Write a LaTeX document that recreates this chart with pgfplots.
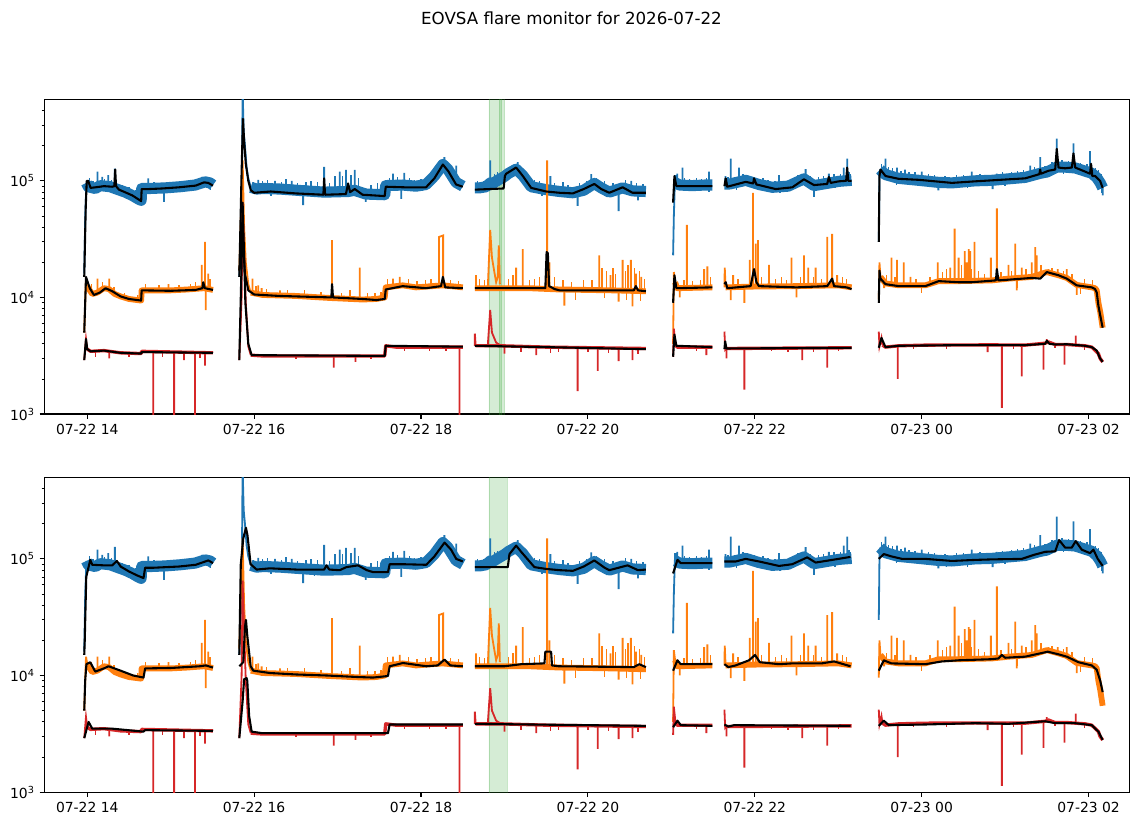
\documentclass[border=0pt]{standalone}
\usepackage{fontspec}
\setmainfont{DejaVu Sans}
\usepackage{pgfplots}
\pgfplotsset{compat=1.18}
\usepackage{pgfplotstable}
\definecolor{tabblue}{HTML}{1F77B4}
\definecolor{taborange}{HTML}{FF7F0E}
\definecolor{tabred}{HTML}{D62728}
\definecolor{tabgreen}{HTML}{2CA02C}

% ---------- blue (high band) ----------
\pgfplotstableread[row sep=\\]{t v\\
13.990 9.6e4\\ 14.012 8.9e4\\ 14.096 8.6e4\\ 14.156 9.1e4\\ 14.275 8.9e4\\ 14.371 8.4e4\\ 14.455 8.0e4\\ 14.538 7.5e4\\ 14.610 7.0e4\\ 14.646 6.8e4\\ 14.652 8.6e4\\ 14.754 8.6e4\\ 14.933 8.7e4\\ 15.112 8.9e4\\ 15.292 9.2e4\\ 15.412 9.8e4\\ 15.471 9.6e4\\ 15.507 9.2e4\\ 0 nan\\
15.960 8.8e4\\ 16.030 8.5e4\\ 16.110 8.6e4\\ 16.310 8.5e4\\ 16.510 8.3e4\\ 16.840 8.0e4\\ 17.130 8.1e4\\ 17.200 8.3e4\\ 17.340 7.7e4\\ 17.565 7.6e4\\ 17.577 9.1e4\\ 17.780 9.2e4\\ 17.940 9.0e4\\ 18.060 9.3e4\\ 18.160 1.1e5\\ 18.262 1.38e5\\ 18.320 1.26e5\\ 18.420 9.7e4\\ 18.501 9.0e4\\ 0 nan\\
18.645 8.7e4\\ 18.700 8.7e4\\ 18.780 8.9e4\\ 18.830 9.6e4\\ 18.860 9.5e4\\ 18.940 1.03e5\\ 19.000 1.09e5\\ 19.050 1.16e5\\ 19.140 1.26e5\\ 19.220 1.11e5\\ 19.320 8.9e4\\ 19.500 8.4e4\\ 19.660 8.1e4\\ 19.820 7.9e4\\ 19.950 8.3e4\\ 20.077 9.5e4\\ 20.160 8.7e4\\ 20.256 8.0e4\\ 20.416 8.7e4\\ 20.535 8.2e4\\ 20.695 8.1e4\\ 0 nan\\
21.050 9.6e4\\ 21.100 9.2e4\\ 21.250 9.1e4\\ 21.400 9.2e4\\ 21.492 9.2e4\\ 0 nan\\
21.636 9.4e4\\ 21.700 9.4e4\\ 21.891 1.01e5\\ 22.050 9.3e4\\ 22.210 8.8e4\\ 22.400 9.0e4\\ 22.589 1.04e5\\ 22.709 9.1e4\\ 22.900 9.6e4\\ 23.007 9.9e4\\ 23.160 1.01e5\\ 0 nan\\
23.500 1.25e5\\ 23.566 1.13e5\\ 23.725 1.05e5\\ 23.964 1.01e5\\ 24.200 9.7e4\\ 24.363 9.6e4\\ 24.640 1.0e5\\ 24.840 1.01e5\\ 25.040 1.04e5\\ 25.240 1.07e5\\ 25.420 1.16e5\\ 25.500 1.19e5\\ 25.619 1.31e5\\ 25.720 1.31e5\\ 25.840 1.29e5\\ 25.960 1.21e5\\ 26.040 1.16e5\\ 26.100 1.06e5\\ 26.140 9.6e4\\ 26.169 8.7e4\\
}\bandB

\pgfplotstableread[row sep=\\]{t v\\
13.964 1.6e4\\ 13.976 5e4\\ 13.990 9.6e4\\ 0 nan\\
14.123 8.7e4\\ 14.123 1.2e5\\ 0 nan\\ 14.179 9.0e4\\ 14.179 1.08e5\\ 0 nan\\ 14.251 9.0e4\\ 14.251 1.12e5\\ 0 nan\\ 14.331 8.9e4\\ 14.331 1.27e5\\ 0 nan\\
14.730 8.6e4\\ 14.730 1.05e5\\ 0 nan\\ 14.920 8.6e4\\ 14.920 6.6e4\\ 0 nan\\ 15.256 9.1e4\\ 15.256 1.0e5\\ 0 nan\\ 15.376 9.6e4\\ 15.376 1.08e5\\ 0 nan\\
15.822 1.5e4\\ 15.850 5e4\\ 15.862 6e5\\ 15.875 2.6e5\\ 15.890 2.0e5\\ 15.910 1.3e5\\ 15.930 1.05e5\\ 15.960 8.8e4\\ 0 nan\\
16.050 8.5e4\\ 16.050 1.02e5\\ 0 nan\\ 16.250 8.5e4\\ 16.250 1.0e5\\ 0 nan\\ 16.450 8.3e4\\ 16.450 1.0e5\\ 0 nan\\
16.587 8.4e4\\ 16.587 6.2e4\\ 0 nan\\ 16.839 8.0e4\\ 16.839 1.32e5\\ 0 nan\\ 17.026 8.0e4\\ 17.026 1.2e5\\ 0 nan\\ 17.100 8.0e4\\ 17.100 1.24e5\\ 0 nan\\
17.206 8.2e4\\ 17.206 1.24e5\\ 0 nan\\ 17.337 7.7e4\\ 17.337 6.6e4\\ 0 nan\\ 17.664 9.1e4\\ 17.664 1.15e5\\ 0 nan\\ 17.764 9.1e4\\ 17.764 7.0e4\\ 0 nan\\
17.800 9.1e4\\ 17.800 1.17e5\\ 0 nan\\ 18.280 1.35e5\\ 18.280 1.6e5\\ 0 nan\\ 18.422 9.7e4\\ 18.422 1.35e5\\ 0 nan\\
18.829 9.6e4\\ 18.829 1.5e5\\ 0 nan\\ 19.160 1.24e5\\ 19.160 1.45e5\\ 0 nan\\ 19.550 8.3e4\\ 19.550 1.1e5\\ 0 nan\\ 19.877 8.0e4\\ 19.877 6.1e4\\ 0 nan\\
20.040 9.2e4\\ 20.040 1.14e5\\ 0 nan\\ 20.368 8.5e4\\ 20.368 5.5e4\\ 0 nan\\ 20.520 8.2e4\\ 20.520 1.0e5\\ 0 nan\\ 20.600 8.1e4\\ 20.600 6.8e4\\ 0 nan\\
21.021 2.3e4\\ 21.030 5e4\\ 21.045 1.12e5\\ 21.050 9.6e4\\ 0 nan\\ 21.070 9.2e4\\ 21.070 1.15e5\\ 0 nan\\ 21.133 9.2e4\\ 21.133 1.3e5\\ 0 nan\\ 21.452 9.2e4\\ 21.452 1.2e5\\ 0 nan\\
21.650 9.4e4\\ 21.650 1.1e5\\ 0 nan\\ 21.712 9.4e4\\ 21.712 1.55e5\\ 0 nan\\ 21.811 9.6e4\\ 21.811 1.3e5\\ 0 nan\\ 22.290 8.9e4\\ 22.290 1.12e5\\ 0 nan\\
22.609 1.02e5\\ 22.609 1.26e5\\ 0 nan\\ 22.709 9.1e4\\ 22.709 7.3e4\\ 0 nan\\ 22.888 9.5e4\\ 22.888 1.15e5\\ 0 nan\\ 23.067 1.0e5\\ 23.067 1.3e5\\ 0 nan\\ 23.107 1.0e5\\ 23.107 1.55e5\\ 0 nan\\
23.486 3.0e4\\ 23.494 1.0e5\\ 23.500 1.25e5\\ 0 nan\\ 23.566 1.13e5\\ 23.566 1.55e5\\ 0 nan\\ 23.705 1.05e5\\ 23.705 1.3e5\\ 0 nan\\ 23.800 1.04e5\\ 23.800 1.25e5\\ 0 nan\\
24.000 1.0e5\\ 24.000 1.2e5\\ 0 nan\\ 24.200 9.7e4\\ 24.200 8.3e4\\ 0 nan\\ 24.600 1.0e5\\ 24.600 1.2e5\\ 0 nan\\ 24.850 1.01e5\\ 24.850 8.5e4\\ 0 nan\\ 24.900 1.01e5\\ 24.900 1.15e5\\ 0 nan\\
25.300 1.1e5\\ 25.300 1.35e5\\ 0 nan\\ 25.420 1.16e5\\ 25.420 1.6e5\\ 0 nan\\ 25.619 1.31e5\\ 25.619 2.3e5\\ 0 nan\\ 25.819 1.3e5\\ 25.819 2.1e5\\ 0 nan\\ 26.018 1.17e5\\ 26.018 1.8e5\\ 0 nan\\ 26.169 8.7e4\\ 26.169 7.5e4\\
}\detB

% small noise excursions of the blue trace
\pgfplotstableread[row sep=\\]{t v\\
14.03 9.0e4\\ 14.03 1.05e5\\ 0 nan\\ 14.07 8.7e4\\ 14.07 1.0e5\\ 0 nan\\ 14.21 9.0e4\\ 14.21 1.03e5\\ 0 nan\\ 14.29 8.9e4\\ 14.29 1.02e5\\ 0 nan\\
14.40 8.4e4\\ 14.40 7.4e4\\ 0 nan\\ 14.42 8.3e4\\ 14.42 9.2e4\\ 0 nan\\ 14.50 7.8e4\\ 14.50 8.8e4\\ 0 nan\\ 14.56 7.4e4\\ 14.56 6.8e4\\ 0 nan\\ 14.58 7.3e4\\ 14.58 8.3e4\\ 0 nan\\
14.68 8.6e4\\ 14.68 9.6e4\\ 0 nan\\ 14.80 8.6e4\\ 14.80 9.8e4\\ 0 nan\\ 14.86 8.6e4\\ 14.86 9.5e4\\ 0 nan\\ 14.98 8.7e4\\ 14.98 9.7e4\\ 0 nan\\ 15.00 8.7e4\\ 15.00 7.9e4\\ 0 nan\\
15.05 8.8e4\\ 15.05 9.6e4\\ 0 nan\\ 15.16 8.9e4\\ 15.16 1.0e5\\ 0 nan\\ 15.20 9.0e4\\ 15.20 9.8e4\\ 0 nan\\ 15.33 9.3e4\\ 15.33 1.0e5\\ 0 nan\\ 15.44 9.7e4\\ 15.44 1.08e5\\ 0 nan\\
15.48 9.5e4\\ 15.48 8.4e4\\ 0 nan\\ 15.49 9.5e4\\ 15.49 1.04e5\\ 0 nan\\
15.99 8.7e4\\ 15.99 9.8e4\\ 0 nan\\ 16.10 8.6e4\\ 16.10 9.9e4\\ 0 nan\\ 16.16 8.6e4\\ 16.16 1.02e5\\ 0 nan\\ 16.20 8.5e4\\ 16.20 7.4e4\\ 0 nan\\ 16.33 8.5e4\\ 16.33 9.8e4\\ 0 nan\\
16.38 8.4e4\\ 16.38 1.04e5\\ 0 nan\\ 16.52 8.3e4\\ 16.52 9.5e4\\ 0 nan\\ 16.62 8.2e4\\ 16.62 9.8e4\\ 0 nan\\ 16.68 8.2e4\\ 16.68 1.0e5\\ 0 nan\\ 16.72 8.1e4\\ 16.72 7.2e4\\ 0 nan\\
16.76 8.1e4\\ 16.76 9.7e4\\ 0 nan\\ 16.90 8.0e4\\ 16.90 9.6e4\\ 0 nan\\ 16.97 8.0e4\\ 16.97 1.1e5\\ 0 nan\\ 17.06 8.0e4\\ 17.06 1.1e5\\ 0 nan\\ 17.16 8.2e4\\ 17.16 1.12e5\\ 0 nan\\
17.25 8.1e4\\ 17.25 1.05e5\\ 0 nan\\ 17.40 7.7e4\\ 17.40 9.2e4\\ 0 nan\\ 17.45 7.7e4\\ 17.45 6.9e4\\ 0 nan\\ 17.48 7.7e4\\ 17.48 9.5e4\\ 0 nan\\ 17.55 7.6e4\\ 17.55 9.2e4\\ 0 nan\\
17.62 9.1e4\\ 17.62 1.05e5\\ 0 nan\\ 17.72 9.2e4\\ 17.72 1.08e5\\ 0 nan\\ 17.86 9.1e4\\ 17.86 1.05e5\\ 0 nan\\ 17.92 9.0e4\\ 17.92 1.02e5\\ 0 nan\\ 18.00 9.1e4\\ 18.00 1.03e5\\ 0 nan\\
18.02 9.1e4\\ 18.02 8.2e4\\ 0 nan\\ 18.10 1.0e5\\ 18.10 1.15e5\\ 0 nan\\ 18.36 1.15e5\\ 18.36 1.3e5\\ 0 nan\\ 18.46 9.3e4\\ 18.46 1.02e5\\ 0 nan\\
18.68 8.7e4\\ 18.68 1.0e5\\ 0 nan\\ 18.75 8.8e4\\ 18.75 1.0e5\\ 0 nan\\ 18.88 9.7e4\\ 18.88 1.15e5\\ 0 nan\\ 18.92 1.0e5\\ 18.92 1.18e5\\ 0 nan\\ 18.97 1.06e5\\ 18.97 1.2e5\\ 0 nan\\
19.02 1.12e5\\ 19.02 1.25e5\\ 0 nan\\ 19.08 1.2e5\\ 19.08 1.35e5\\ 0 nan\\ 19.26 1.0e5\\ 19.26 1.15e5\\ 0 nan\\ 19.36 8.8e4\\ 19.36 1.02e5\\ 0 nan\\ 19.42 8.6e4\\ 19.42 1.0e5\\ 0 nan\\
19.45 8.6e4\\ 19.45 7.4e4\\ 0 nan\\ 19.60 8.2e4\\ 19.60 9.6e4\\ 0 nan\\ 19.70 8.1e4\\ 19.70 9.8e4\\ 0 nan\\ 19.76 8.0e4\\ 19.76 9.2e4\\ 0 nan\\ 19.90 8.1e4\\ 19.90 9.5e4\\ 0 nan\\
19.98 8.6e4\\ 19.98 1.0e5\\ 0 nan\\ 20.10 9.2e4\\ 20.10 1.05e5\\ 0 nan\\ 20.20 8.3e4\\ 20.20 1.0e5\\ 0 nan\\ 20.22 8.3e4\\ 20.22 7.3e4\\ 0 nan\\ 20.30 8.2e4\\ 20.30 9.6e4\\ 0 nan\\
20.45 8.6e4\\ 20.45 1.02e5\\ 0 nan\\ 20.58 8.2e4\\ 20.58 9.5e4\\ 0 nan\\ 20.65 8.1e4\\ 20.65 7.3e4\\ 0 nan\\ 20.66 8.1e4\\ 20.66 9.4e4\\ 0 nan\\
21.16 9.2e4\\ 21.16 1.05e5\\ 0 nan\\ 21.22 9.1e4\\ 21.22 1.04e5\\ 0 nan\\ 21.28 9.1e4\\ 21.28 8.2e4\\ 0 nan\\ 21.30 9.1e4\\ 21.30 1.06e5\\ 0 nan\\ 21.36 9.2e4\\ 21.36 1.03e5\\ 0 nan\\
21.42 9.2e4\\ 21.42 1.05e5\\ 0 nan\\ 21.45 9.2e4\\ 21.45 8.0e4\\ 0 nan\\ 21.48 9.2e4\\ 21.48 1.02e5\\ 0 nan\\
21.68 9.4e4\\ 21.68 1.08e5\\ 0 nan\\ 21.76 9.6e4\\ 21.76 1.08e5\\ 0 nan\\ 21.78 9.6e4\\ 21.78 8.4e4\\ 0 nan\\ 21.86 1.0e5\\ 21.86 1.15e5\\ 0 nan\\ 21.94 9.8e4\\ 21.94 1.1e5\\ 0 nan\\
22.00 9.5e4\\ 22.00 1.08e5\\ 0 nan\\ 22.10 9.1e4\\ 22.10 1.05e5\\ 0 nan\\ 22.16 8.9e4\\ 22.16 1.02e5\\ 0 nan\\ 22.24 8.8e4\\ 22.24 1.0e5\\ 0 nan\\ 22.30 8.8e4\\ 22.30 7.8e4\\ 0 nan\\
22.35 8.9e4\\ 22.35 1.0e5\\ 0 nan\\ 22.45 9.3e4\\ 22.45 1.05e5\\ 0 nan\\ 22.52 9.8e4\\ 22.52 1.12e5\\ 0 nan\\ 22.66 9.6e4\\ 22.66 1.1e5\\ 0 nan\\ 22.76 9.3e4\\ 22.76 1.08e5\\ 0 nan\\
22.82 9.4e4\\ 22.82 1.1e5\\ 0 nan\\ 22.95 9.7e4\\ 22.95 1.15e5\\ 0 nan\\ 22.96 9.7e4\\ 22.96 8.6e4\\ 0 nan\\ 23.03 9.9e4\\ 23.03 1.15e5\\ 0 nan\\ 23.13 1.0e5\\ 23.13 1.2e5\\ 0 nan\\
23.15 1.0e5\\ 23.15 1.15e5\\ 0 nan\\
23.52 1.22e5\\ 23.52 1.4e5\\ 0 nan\\ 23.60 1.11e5\\ 23.60 1.32e5\\ 0 nan\\ 23.65 1.09e5\\ 23.65 1.28e5\\ 0 nan\\ 23.70 1.07e5\\ 23.70 9.2e4\\ 0 nan\\ 23.75 1.05e5\\ 23.75 1.22e5\\ 0 nan\\
23.85 1.03e5\\ 23.85 1.2e5\\ 0 nan\\ 23.92 1.02e5\\ 23.92 1.18e5\\ 0 nan\\ 24.08 9.9e4\\ 24.08 1.15e5\\ 0 nan\\ 24.15 9.8e4\\ 24.15 1.12e5\\ 0 nan\\ 24.28 9.6e4\\ 24.28 1.1e5\\ 0 nan\\
24.30 9.6e4\\ 24.30 8.6e4\\ 0 nan\\ 24.42 9.7e4\\ 24.42 1.12e5\\ 0 nan\\ 24.50 9.8e4\\ 24.50 1.12e5\\ 0 nan\\ 24.55 9.9e4\\ 24.55 8.6e4\\ 0 nan\\ 24.70 1.0e5\\ 24.70 1.15e5\\ 0 nan\\
24.76 1.0e5\\ 24.76 1.12e5\\ 0 nan\\ 24.97 1.03e5\\ 24.97 1.18e5\\ 0 nan\\ 25.00 1.03e5\\ 25.00 9.0e4\\ 0 nan\\ 25.08 1.05e5\\ 25.08 1.2e5\\ 0 nan\\ 25.15 1.06e5\\ 25.15 1.22e5\\ 0 nan\\
25.22 1.07e5\\ 25.22 1.25e5\\ 0 nan\\ 25.35 1.12e5\\ 25.35 1.32e5\\ 0 nan\\ 25.48 1.18e5\\ 25.48 1.35e5\\ 0 nan\\ 25.56 1.25e5\\ 25.56 1.45e5\\ 0 nan\\ 25.68 1.31e5\\ 25.68 1.5e5\\ 0 nan\\
25.70 1.31e5\\ 25.70 1.15e5\\ 0 nan\\ 25.76 1.3e5\\ 25.76 1.48e5\\ 0 nan\\ 25.90 1.25e5\\ 25.90 1.42e5\\ 0 nan\\ 25.98 1.2e5\\ 25.98 1.4e5\\ 0 nan\\ 26.08 1.1e5\\ 26.08 1.3e5\\ 0 nan\\
26.10 1.06e5\\ 26.10 9.0e4\\ 0 nan\\ 26.12 1.02e5\\ 26.12 1.25e5\\ 0 nan\\ 26.15 9.3e4\\ 26.15 1.15e5\\ 0 nan\\ 26.16 9.0e4\\ 26.16 7.8e4\\
}\hairB

% ---------- orange (mid band) ----------
\pgfplotstableread[row sep=\\]{t v\\
14.000 1.25e4\\ 14.012 1.2e4\\ 14.060 1.07e4\\ 14.120 1.1e4\\ 14.200 1.2e4\\ 14.260 1.18e4\\ 14.330 1.07e4\\ 14.400 1.02e4\\ 14.500 9.7e3\\ 14.646 9.4e3\\ 14.652 1.15e4\\ 14.800 1.15e4\\ 15.000 1.15e4\\ 15.200 1.17e4\\ 15.400 1.2e4\\ 15.507 1.16e4\\ 0 nan\\
15.960 1.1e4\\ 16.100 1.05e4\\ 16.500 1.03e4\\ 16.900 9.9e3\\ 17.300 9.6e3\\ 17.465 9.7e3\\ 17.565 1.0e4\\ 17.577 1.22e4\\ 17.780 1.27e4\\ 17.940 1.22e4\\ 18.260 1.27e4\\ 18.501 1.22e4\\ 0 nan\\
18.645 1.2e4\\ 19.000 1.2e4\\ 19.300 1.2e4\\ 19.660 1.17e4\\ 20.300 1.15e4\\ 20.695 1.13e4\\ 0 nan\\
21.045 1.35e4\\ 21.070 1.2e4\\ 21.492 1.22e4\\ 0 nan\\
21.650 1.22e4\\ 22.000 1.24e4\\ 22.500 1.25e4\\ 23.000 1.27e4\\ 23.160 1.22e4\\ 0 nan\\
23.506 1.5e4\\ 23.566 1.32e4\\ 23.725 1.27e4\\ 24.044 1.27e4\\ 24.204 1.38e4\\ 24.443 1.38e4\\ 24.841 1.4e4\\ 25.041 1.45e4\\ 25.320 1.5e4\\ 25.500 1.65e4\\ 25.639 1.55e4\\ 25.739 1.47e4\\ 25.858 1.28e4\\ 26.038 1.22e4\\ 26.078 1.2e4\\ 26.098 1.15e4\\ 26.118 9e3\\ 26.140 7.5e3\\ 26.169 5.5e3\\
}\bandO

\pgfplotstableread[row sep=\\]{t v\\
13.964 5.0e3\\ 13.985 1.45e4\\ 14.000 1.25e4\\ 0 nan\\
14.123 1.1e4\\ 14.123 1.45e4\\ 0 nan\\ 14.263 1.18e4\\ 14.263 1.45e4\\ 0 nan\\ 14.973 1.15e4\\ 14.973 1.3e4\\ 0 nan\\ 15.372 1.2e4\\ 15.372 1.9e4\\ 0 nan\\
15.410 1.2e4\\ 15.410 3.0e4\\ 0 nan\\ 15.420 1.2e4\\ 15.420 7.8e3\\ 0 nan\\ 15.450 1.2e4\\ 15.450 1.6e4\\ 0 nan\\
15.822 1.7e4\\ 15.862 1.5e5\\ 15.880 4e4\\ 15.900 2e4\\ 15.930 1.3e4\\ 15.960 1.1e4\\ 0 nan\\
15.980 1.1e4\\ 15.980 1.45e4\\ 0 nan\\ 16.050 1.05e4\\ 16.050 1.27e4\\ 0 nan\\ 16.090 1.05e4\\ 16.090 1.2e4\\ 0 nan\\ 16.310 1.04e4\\ 16.310 1.15e4\\ 0 nan\\
16.934 9.9e3\\ 16.934 3.1e4\\ 0 nan\\ 17.266 9.6e3\\ 17.266 1.8e4\\ 0 nan\\ 17.664 1.24e4\\ 17.664 1.45e4\\ 0 nan\\ 17.744 1.26e4\\ 17.744 1.5e4\\ 0 nan\\
18.215 1.26e4\\ 18.215 3.3e4\\ 18.265 3.4e4\\ 18.265 1.27e4\\ 0 nan\\
18.660 1.2e4\\ 18.660 1.55e4\\ 0 nan\\ 18.800 1.2e4\\ 18.829 3.8e4\\ 18.850 2.2e4\\ 18.870 1.8e4\\ 18.900 1.35e4\\ 18.920 1.5e4\\ 18.932 2.8e4\\ 18.945 1.3e4\\ 0 nan\\
19.140 1.2e4\\ 19.140 1.8e4\\ 0 nan\\ 19.219 1.2e4\\ 19.219 2.6e4\\ 0 nan\\ 19.511 1.2e4\\ 19.511 1.5e5\\ 0 nan\\ 19.540 1.2e4\\ 19.540 2.0e4\\ 0 nan\\
19.718 1.17e4\\ 19.718 8.5e3\\ 0 nan\\ 20.137 1.15e4\\ 20.137 2.3e4\\ 0 nan\\ 20.270 1.15e4\\ 20.270 1.55e4\\ 0 nan\\ 20.368 1.14e4\\ 20.368 9.2e3\\ 0 nan\\
20.416 1.14e4\\ 20.416 2.1e4\\ 0 nan\\ 20.515 1.13e4\\ 20.515 2.1e4\\ 0 nan\\ 20.535 1.13e4\\ 20.535 8.4e3\\ 0 nan\\ 20.575 1.13e4\\ 20.575 1.6e4\\ 0 nan\\ 20.640 1.13e4\\ 20.640 1.5e4\\ 0 nan\\
21.021 4e3\\ 21.030 1.65e4\\ 21.045 1.35e4\\ 0 nan\\ 21.100 1.2e4\\ 21.100 1.0e4\\ 0 nan\\ 21.186 1.2e4\\ 21.186 4.2e4\\ 0 nan\\ 21.393 1.22e4\\ 21.393 1.75e4\\ 0 nan\\ 21.432 1.22e4\\ 21.432 1.85e4\\ 0 nan\\
21.636 1.22e4\\ 21.640 1.8e4\\ 21.650 1.22e4\\ 0 nan\\ 21.712 1.22e4\\ 21.712 9.5e3\\ 0 nan\\ 21.740 1.22e4\\ 21.740 1.55e4\\ 0 nan\\ 21.875 1.23e4\\ 21.875 9.0e3\\ 0 nan\\
21.939 1.23e4\\ 21.939 2.1e4\\ 0 nan\\ 21.979 1.24e4\\ 21.979 7.9e4\\ 0 nan\\ 22.011 1.24e4\\ 22.011 2.9e4\\ 0 nan\\ 22.039 1.24e4\\ 22.039 3.1e4\\ 0 nan\\
22.170 1.24e4\\ 22.170 1.9e4\\ 0 nan\\ 22.441 1.25e4\\ 22.441 2.2e4\\ 0 nan\\ 22.500 1.25e4\\ 22.500 1.0e4\\ 0 nan\\ 22.589 1.25e4\\ 22.589 2.3e4\\ 0 nan\\
22.641 1.26e4\\ 22.641 1.8e4\\ 0 nan\\ 22.729 1.26e4\\ 22.729 1.8e4\\ 0 nan\\ 22.868 1.27e4\\ 22.868 3.3e4\\ 0 nan\\ 22.927 1.27e4\\ 22.927 3.5e4\\ 0 nan\\ 22.987 1.27e4\\ 22.987 1.55e4\\ 0 nan\\
23.486 9.6e3\\ 23.494 2e4\\ 23.506 1.5e4\\ 0 nan\\ 23.550 1.3e4\\ 23.550 1.2e4\\ 0 nan\\ 23.638 1.27e4\\ 23.638 2.2e4\\ 0 nan\\ 23.705 1.27e4\\ 23.705 2.1e4\\ 0 nan\\
23.785 1.27e4\\ 23.785 2.0e4\\ 0 nan\\ 23.865 1.27e4\\ 23.865 1.5e4\\ 0 nan\\ 24.192 1.38e4\\ 24.192 2.0e4\\ 0 nan\\ 24.343 1.38e4\\ 24.343 1.8e4\\ 0 nan\\
24.395 1.38e4\\ 24.395 3.9e4\\ 0 nan\\ 24.443 1.38e4\\ 24.443 2.2e4\\ 0 nan\\ 24.515 1.39e4\\ 24.515 2.5e4\\ 0 nan\\ 24.540 1.39e4\\ 24.540 2.0e4\\ 0 nan\\
24.563 1.39e4\\ 24.563 2.6e4\\ 0 nan\\ 24.583 1.39e4\\ 24.583 2.5e4\\ 0 nan\\ 24.634 1.39e4\\ 24.634 3.0e4\\ 0 nan\\ 24.829 1.4e4\\ 24.829 2.2e4\\ 0 nan\\
24.901 1.42e4\\ 24.901 5.8e4\\ 0 nan\\ 25.041 1.45e4\\ 25.041 1.9e4\\ 0 nan\\ 25.121 1.47e4\\ 25.121 2.9e4\\ 0 nan\\ 25.140 1.47e4\\ 25.140 1.15e4\\ 0 nan\\
25.200 1.48e4\\ 25.200 1.8e4\\ 0 nan\\ 25.320 1.5e4\\ 25.320 2.0e4\\ 0 nan\\ 25.360 1.52e4\\ 25.360 2.7e4\\ 0 nan\\ 25.380 1.53e4\\ 25.380 2.3e4\\ 0 nan\\
25.519 1.63e4\\ 25.519 1.75e4\\ 0 nan\\ 25.631 1.55e4\\ 25.631 1.75e4\\ 0 nan\\ 25.739 1.47e4\\ 25.739 1.75e4\\ 0 nan\\ 25.858 1.28e4\\ 25.858 1.05e4\\
}\detO

\pgfplotstableread[row sep=\\]{t v\\
14.05 1.1e4\\ 14.05 1.3e4\\ 0 nan\\ 14.18 1.17e4\\ 14.18 1.35e4\\ 0 nan\\ 14.32 1.08e4\\ 14.32 1.22e4\\ 0 nan\\ 14.45 1.0e4\\ 14.45 1.1e4\\ 0 nan\\ 14.60 9.5e3\\ 14.60 1.05e4\\ 0 nan\\
14.70 1.15e4\\ 14.70 1.3e4\\ 0 nan\\ 14.86 1.15e4\\ 14.86 1.28e4\\ 0 nan\\ 15.10 1.16e4\\ 15.10 1.27e4\\ 0 nan\\ 15.24 1.17e4\\ 15.24 1.3e4\\ 0 nan\\ 15.30 1.18e4\\ 15.30 1.35e4\\ 0 nan\\
15.47 1.18e4\\ 15.47 1.45e4\\ 0 nan\\
16.02 1.06e4\\ 16.02 1.25e4\\ 0 nan\\ 16.15 1.05e4\\ 16.15 1.18e4\\ 0 nan\\ 16.40 1.04e4\\ 16.40 1.15e4\\ 0 nan\\ 16.60 1.02e4\\ 16.60 1.15e4\\ 0 nan\\ 16.80 1.0e4\\ 16.80 1.12e4\\ 0 nan\\
17.05 9.8e3\\ 17.05 1.1e4\\ 0 nan\\ 17.15 9.8e3\\ 17.15 1.15e4\\ 0 nan\\ 17.36 9.6e3\\ 17.36 1.1e4\\ 0 nan\\ 17.45 9.7e3\\ 17.45 1.1e4\\ 0 nan\\ 17.52 9.9e3\\ 17.52 1.12e4\\ 0 nan\\
17.60 1.23e4\\ 17.60 1.45e4\\ 0 nan\\ 17.85 1.25e4\\ 17.85 1.45e4\\ 0 nan\\ 17.95 1.22e4\\ 17.95 1.38e4\\ 0 nan\\ 18.05 1.24e4\\ 18.05 1.4e4\\ 0 nan\\ 18.12 1.25e4\\ 18.12 1.45e4\\ 0 nan\\
18.35 1.25e4\\ 18.35 1.4e4\\ 0 nan\\ 18.45 1.23e4\\ 18.45 1.38e4\\ 0 nan\\
18.70 1.2e4\\ 18.70 1.45e4\\ 0 nan\\ 18.76 1.2e4\\ 18.76 1.4e4\\ 0 nan\\ 19.05 1.2e4\\ 19.05 1.45e4\\ 0 nan\\ 19.10 1.2e4\\ 19.10 1.55e4\\ 0 nan\\ 19.30 1.2e4\\ 19.30 1.4e4\\ 0 nan\\
19.36 1.2e4\\ 19.36 1.45e4\\ 0 nan\\ 19.42 1.2e4\\ 19.42 1.5e4\\ 0 nan\\ 19.60 1.18e4\\ 19.60 1.5e4\\ 0 nan\\ 19.70 1.17e4\\ 19.70 1.4e4\\ 0 nan\\ 19.80 1.16e4\\ 19.80 1.35e4\\ 0 nan\\
19.85 1.16e4\\ 19.85 9.5e3\\ 0 nan\\ 19.95 1.16e4\\ 19.95 1.4e4\\ 0 nan\\ 20.05 1.16e4\\ 20.05 1.4e4\\ 0 nan\\ 20.17 1.15e4\\ 20.17 1.8e4\\ 0 nan\\ 20.20 1.15e4\\ 20.20 9.8e3\\ 0 nan\\
20.22 1.15e4\\ 20.22 1.7e4\\ 0 nan\\ 20.30 1.15e4\\ 20.30 1.8e4\\ 0 nan\\ 20.33 1.15e4\\ 20.33 1.6e4\\ 0 nan\\ 20.45 1.14e4\\ 20.45 1.7e4\\ 0 nan\\ 20.46 1.14e4\\ 20.46 9.5e3\\ 0 nan\\
20.48 1.14e4\\ 20.48 1.9e4\\ 0 nan\\ 20.56 1.13e4\\ 20.56 1.8e4\\ 0 nan\\ 20.62 1.13e4\\ 20.62 1.7e4\\ 0 nan\\ 20.63 1.13e4\\ 20.63 9.4e3\\ 0 nan\\ 20.68 1.13e4\\ 20.68 1.45e4\\ 0 nan\\
21.15 1.21e4\\ 21.15 1.4e4\\ 0 nan\\ 21.25 1.21e4\\ 21.25 1.38e4\\ 0 nan\\ 21.35 1.22e4\\ 21.35 1.4e4\\ 0 nan\\ 21.47 1.22e4\\ 21.47 1.5e4\\ 0 nan\\
21.80 1.23e4\\ 21.80 1.45e4\\ 0 nan\\ 22.08 1.24e4\\ 22.08 1.5e4\\ 0 nan\\ 22.25 1.24e4\\ 22.25 1.45e4\\ 0 nan\\ 22.32 1.24e4\\ 22.32 1.5e4\\ 0 nan\\ 22.38 1.25e4\\ 22.38 1.4e4\\ 0 nan\\
22.55 1.25e4\\ 22.55 1.5e4\\ 0 nan\\ 22.70 1.26e4\\ 22.70 1.5e4\\ 0 nan\\ 22.80 1.26e4\\ 22.80 1.45e4\\ 0 nan\\ 23.05 1.26e4\\ 23.05 1.5e4\\ 0 nan\\ 23.10 1.24e4\\ 23.10 1.45e4\\ 0 nan\\
23.58 1.31e4\\ 23.58 1.55e4\\ 0 nan\\ 23.68 1.28e4\\ 23.68 1.5e4\\ 0 nan\\ 23.93 1.27e4\\ 23.93 1.45e4\\ 0 nan\\ 24.00 1.27e4\\ 24.00 1.1e4\\ 0 nan\\ 24.10 1.3e4\\ 24.10 1.5e4\\ 0 nan\\
24.25 1.38e4\\ 24.25 1.65e4\\ 0 nan\\ 24.30 1.38e4\\ 24.30 1.75e4\\ 0 nan\\ 24.48 1.38e4\\ 24.48 1.9e4\\ 0 nan\\ 24.60 1.39e4\\ 24.60 1.75e4\\ 0 nan\\ 24.68 1.39e4\\ 24.68 1.7e4\\ 0 nan\\
24.75 1.4e4\\ 24.75 1.6e4\\ 0 nan\\ 24.95 1.43e4\\ 24.95 1.65e4\\ 0 nan\\ 25.08 1.46e4\\ 25.08 1.7e4\\ 0 nan\\ 25.15 1.47e4\\ 25.15 1.2e4\\ 0 nan\\ 25.25 1.49e4\\ 25.25 1.75e4\\ 0 nan\\
25.43 1.56e4\\ 25.43 1.9e4\\ 0 nan\\ 25.56 1.6e4\\ 25.56 1.8e4\\ 0 nan\\ 25.70 1.5e4\\ 25.70 1.7e4\\ 0 nan\\ 25.80 1.42e4\\ 25.80 1.6e4\\ 0 nan\\ 25.90 1.3e4\\ 25.90 1.08e4\\ 0 nan\\
25.95 1.27e4\\ 25.95 1.45e4\\ 0 nan\\ 26.05 1.22e4\\ 26.05 1.4e4\\ 0 nan\\ 26.08 1.2e4\\ 26.08 1.0e4\\
}\hairO

% ---------- red (low band) ----------
\pgfplotstableread[row sep=\\]{t v\\
14.000 3.6e3\\ 14.040 3.45e3\\ 14.200 3.5e3\\ 14.400 3.35e3\\ 14.646 3.3e3\\ 14.652 3.45e3\\ 15.507 3.35e3\\ 0 nan\\
15.960 3.2e3\\ 16.100 3.15e3\\ 17.565 3.15e3\\ 17.577 3.85e3\\ 17.700 3.75e3\\ 18.501 3.75e3\\ 0 nan\\
18.655 3.85e3\\ 18.800 3.85e3\\ 18.960 3.85e3\\ 19.500 3.75e3\\ 20.695 3.65e3\\ 0 nan\\
21.050 3.9e3\\ 21.070 3.75e3\\ 21.492 3.75e3\\ 0 nan\\
21.650 3.65e3\\ 23.160 3.7e3\\ 0 nan\\
23.530 3.9e3\\ 23.566 3.75e3\\ 23.725 3.85e3\\ 24.044 3.9e3\\ 24.841 3.92e3\\ 25.240 3.9e3\\ 25.480 4.05e3\\ 25.520 4.15e3\\ 25.600 3.95e3\\ 25.739 3.95e3\\ 25.958 3.85e3\\ 26.038 3.75e3\\ 26.118 3.3e3\\ 26.138 3.0e3\\ 26.169 2.8e3\\
}\bandR

\pgfplotstableread[row sep=\\]{t v\\
13.964 2.9e3\\ 13.985 4.4e3\\ 14.000 3.6e3\\ 0 nan\\ 14.263 3.5e3\\ 14.263 3.0e3\\ 0 nan\\ 14.790 3.35e3\\ 14.790 500\\ 0 nan\\ 15.041 3.35e3\\ 15.041 500\\ 0 nan\\
15.160 3.35e3\\ 15.160 2.9e3\\ 0 nan\\ 15.292 3.35e3\\ 15.292 500\\ 0 nan\\ 15.410 3.35e3\\ 15.410 2.6e3\\ 0 nan\\
15.822 2.9e3\\ 15.850 1e4\\ 15.862 6.5e4\\ 15.880 2.5e4\\ 15.900 9e3\\ 15.930 3.8e3\\ 15.960 3.2e3\\ 0 nan\\
16.953 3.15e3\\ 16.953 2.5e3\\ 0 nan\\ 17.214 3.15e3\\ 17.214 2.8e3\\ 0 nan\\ 18.462 3.75e3\\ 18.462 500\\ 0 nan\\
18.645 3.85e3\\ 18.645 4.9e3\\ 18.655 3.85e3\\ 0 nan\\ 18.800 3.85e3\\ 18.829 7.8e3\\ 18.850 5e3\\ 18.900 4.1e3\\ 18.960 3.85e3\\ 0 nan\\
19.000 3.85e3\\ 19.000 3.3e3\\ 0 nan\\ 19.380 3.75e3\\ 19.380 3.2e3\\ 0 nan\\ 19.877 3.7e3\\ 19.877 1.57e3\\ 0 nan\\ 20.117 3.7e3\\ 20.117 2.35e3\\ 0 nan\\
20.368 3.7e3\\ 20.368 2.85e3\\ 0 nan\\ 20.535 3.65e3\\ 20.535 2.9e3\\ 0 nan\\
21.021 3.1e3\\ 21.030 5.4e3\\ 21.050 3.9e3\\ 0 nan\\ 21.420 3.75e3\\ 21.420 3.2e3\\ 0 nan\\
21.636 5.1e3\\ 21.645 3.6e3\\ 21.650 3.65e3\\ 0 nan\\ 21.660 3.65e3\\ 21.660 3.0e3\\ 0 nan\\ 21.875 3.65e3\\ 21.875 1.62e3\\ 0 nan\\
22.569 3.7e3\\ 22.569 2.9e3\\ 0 nan\\ 22.868 3.7e3\\ 22.868 2.5e3\\ 0 nan\\
23.486 5.1e3\\ 23.494 3.8e3\\ 23.518 4.5e3\\ 23.530 3.9e3\\ 0 nan\\ 23.713 3.85e3\\ 23.713 2.0e3\\ 0 nan\\ 24.790 3.92e3\\ 24.790 3.4e3\\ 0 nan\\
24.961 3.92e3\\ 24.961 1.13e3\\ 0 nan\\ 25.200 3.9e3\\ 25.200 2.1e3\\ 0 nan\\ 25.460 4.0e3\\ 25.460 2.4e3\\ 0 nan\\ 25.500 4.1e3\\ 25.500 4.4e3\\ 0 nan\\
25.711 3.95e3\\ 25.711 2.65e3\\ 0 nan\\ 25.846 3.9e3\\ 25.846 4.7e3\\
}\detR

\pgfplotstableread[row sep=\\]{t v\\
14.10 3.45e3\\ 14.10 3.1e3\\ 0 nan\\ 14.50 3.35e3\\ 14.50 3.1e3\\ 0 nan\\ 14.90 3.4e3\\ 14.90 3.1e3\\ 0 nan\\ 15.35 3.35e3\\ 15.35 3.0e3\\ 0 nan\\ 16.50 3.15e3\\ 16.50 2.95e3\\ 0 nan\\
17.40 3.15e3\\ 17.40 2.95e3\\ 0 nan\\ 17.80 3.75e3\\ 17.80 3.5e3\\ 0 nan\\ 18.10 3.75e3\\ 18.10 3.5e3\\ 0 nan\\ 18.30 3.75e3\\ 18.30 3.45e3\\ 0 nan\\ 19.20 3.8e3\\ 19.20 3.4e3\\ 0 nan\\
19.55 3.75e3\\ 19.55 3.35e3\\ 0 nan\\ 19.65 3.72e3\\ 19.65 3.4e3\\ 0 nan\\ 20.00 3.7e3\\ 20.00 3.4e3\\ 0 nan\\ 20.25 3.68e3\\ 20.25 3.35e3\\ 0 nan\\ 20.60 3.65e3\\ 20.60 3.3e3\\ 0 nan\\
21.30 3.75e3\\ 21.30 3.45e3\\ 0 nan\\ 22.20 3.67e3\\ 22.20 3.45e3\\ 0 nan\\ 22.40 3.67e3\\ 22.40 3.4e3\\ 0 nan\\ 22.70 3.68e3\\ 22.70 3.4e3\\ 0 nan\\ 23.00 3.7e3\\ 23.00 3.45e3\\ 0 nan\\
23.90 3.88e3\\ 23.90 3.6e3\\ 0 nan\\ 24.30 3.9e3\\ 24.30 3.6e3\\ 0 nan\\ 25.10 3.9e3\\ 25.10 3.6e3\\ 0 nan\\ 25.60 3.95e3\\ 25.60 3.7e3\\ 0 nan\\ 25.95 3.85e3\\ 25.95 3.55e3\\
}\hairR

% ---------- black smoothed curves, upper panel ----------
\pgfplotstableread[row sep=\\]{t v\\
13.964 1.5e4\\ 13.982 6e4\\ 13.994 1.0e5\\ 14.012 1.0e5\\ 14.040 8.7e4\\ 14.100 8.8e4\\ 14.200 9.0e4\\ 14.300 8.9e4\\ 14.325 9.0e4\\ 14.335 1.25e5\\ 14.345 9.0e4\\ 14.380 8.4e4\\ 14.450 8.0e4\\ 14.540 7.5e4\\ 14.646 6.7e4\\ 14.652 8.5e4\\ 14.740 8.5e4\\ 14.900 8.6e4\\ 15.100 8.8e4\\ 15.300 9.1e4\\ 15.400 9.7e4\\ 15.450 9.6e4\\ 15.507 9.1e4\\ 0 nan\\
15.822 1.5e4\\ 15.850 1.2e5\\ 15.866 3.4e5\\ 15.880 2.2e5\\ 15.900 1.4e5\\ 15.930 1.0e5\\ 15.960 8.3e4\\ 16.000 7.9e4\\ 16.200 8.1e4\\ 16.500 7.8e4\\ 16.830 7.6e4\\ 16.839 1.05e5\\ 16.850 7.6e4\\ 17.100 7.7e4\\ 17.126 9.5e4\\ 17.150 8.0e4\\ 17.206 8.5e4\\ 17.300 7.6e4\\ 17.565 7.4e4\\ 17.577 8.9e4\\ 17.800 8.8e4\\ 18.060 8.8e4\\ 18.160 1.05e5\\ 18.262 1.38e5\\ 18.330 1.2e5\\ 18.420 9.3e4\\ 18.501 8.9e4\\ 0 nan\\
18.645 8.4e4\\ 18.990 8.6e4\\ 19.005 1.1e5\\ 19.020 1.15e5\\ 19.140 1.3e5\\ 19.220 1.1e5\\ 19.320 8.7e4\\ 19.500 8.1e4\\ 19.660 7.9e4\\ 19.820 7.8e4\\ 19.950 8.5e4\\ 20.077 9.4e4\\ 20.160 8.5e4\\ 20.256 7.9e4\\ 20.416 8.8e4\\ 20.535 7.9e4\\ 20.695 7.9e4\\ 0 nan\\
21.021 6.5e4\\ 21.037 1.1e5\\ 21.060 9.0e4\\ 21.492 9.0e4\\ 0 nan\\
21.636 9.0e4\\ 21.652 1.05e5\\ 21.670 8.9e4\\ 21.891 9.8e4\\ 21.980 9.5e4\\ 21.991 1.05e5\\ 22.020 9.3e4\\ 22.050 9.2e4\\ 22.250 8.5e4\\ 22.450 8.8e4\\ 22.589 1.03e5\\ 22.709 9.2e4\\ 22.868 9.4e4\\ 22.888 1.08e5\\ 22.910 9.6e4\\ 23.007 9.9e4\\ 23.095 1.0e5\\ 23.107 1.3e5\\ 23.120 1.0e5\\ 23.160 1.0e5\\ 0 nan\\
23.486 3e4\\ 23.494 1.1e5\\ 23.506 1.25e5\\ 23.566 1.1e5\\ 23.725 1.04e5\\ 23.964 1.02e5\\ 24.363 9.6e4\\ 24.642 9.9e4\\ 25.041 1.03e5\\ 25.240 1.05e5\\ 25.410 1.14e5\\ 25.420 1.25e5\\ 25.430 1.15e5\\ 25.520 1.22e5\\ 25.600 1.25e5\\ 25.619 1.88e5\\ 25.640 1.3e5\\ 25.719 1.28e5\\ 25.800 1.3e5\\ 25.819 1.72e5\\ 25.840 1.3e5\\ 25.958 1.2e5\\ 26.018 1.15e5\\ 26.030 1.4e5\\ 26.045 1.1e5\\ 26.078 1.1e5\\ 26.138 1.0e5\\ 26.169 8.7e4\\
}\kBt

\pgfplotstableread[row sep=\\]{t v\\
13.964 5e3\\ 13.985 1.5e4\\ 14.030 1.2e4\\ 14.080 1.05e4\\ 14.150 1.1e4\\ 14.220 1.2e4\\ 14.300 1.13e4\\ 14.400 1.02e4\\ 14.500 9.7e3\\ 14.646 9.4e3\\ 14.652 1.15e4\\ 15.000 1.14e4\\ 15.300 1.16e4\\ 15.380 1.2e4\\ 15.390 1.35e4\\ 15.410 1.2e4\\ 15.507 1.16e4\\ 0 nan\\
15.822 1.7e4\\ 15.850 2.4e4\\ 15.866 3.0e4\\ 15.890 1.6e4\\ 15.930 1.15e4\\ 16.000 1.06e4\\ 16.300 1.03e4\\ 16.925 1.0e4\\ 16.934 1.3e4\\ 16.945 1.0e4\\ 17.300 9.7e3\\ 17.465 9.5e3\\ 17.565 9.7e3\\ 17.577 1.17e4\\ 17.780 1.25e4\\ 18.060 1.2e4\\ 18.240 1.25e4\\ 18.262 1.5e4\\ 18.290 1.22e4\\ 18.501 1.2e4\\ 0 nan\\
18.645 1.2e4\\ 19.490 1.2e4\\ 19.505 2.45e4\\ 19.520 2.4e4\\ 19.535 1.25e4\\ 19.600 1.18e4\\ 19.660 1.15e4\\ 20.550 1.15e4\\ 20.575 1.25e4\\ 20.600 1.15e4\\ 20.695 1.13e4\\ 0 nan\\
21.021 9e3\\ 21.037 1.55e4\\ 21.060 1.2e4\\ 21.492 1.22e4\\ 0 nan\\
21.636 1.3e4\\ 21.652 1.35e4\\ 21.670 1.2e4\\ 21.950 1.25e4\\ 21.991 1.75e4\\ 22.020 1.35e4\\ 22.050 1.25e4\\ 22.500 1.22e4\\ 22.868 1.25e4\\ 22.927 1.45e4\\ 22.950 1.25e4\\ 23.100 1.22e4\\ 23.160 1.18e4\\ 0 nan\\
23.486 9e3\\ 23.494 1.7e4\\ 23.506 1.45e4\\ 23.566 1.3e4\\ 23.725 1.25e4\\ 24.044 1.25e4\\ 24.204 1.38e4\\ 24.443 1.35e4\\ 24.600 1.35e4\\ 24.890 1.4e4\\ 24.901 1.75e4\\ 24.920 1.4e4\\ 25.041 1.42e4\\ 25.320 1.47e4\\ 25.420 1.45e4\\ 25.500 1.65e4\\ 25.639 1.55e4\\ 25.739 1.45e4\\ 25.858 1.27e4\\ 26.038 1.22e4\\ 26.078 1.18e4\\ 26.098 1.1e4\\ 26.118 8.5e3\\ 26.140 7e3\\ 26.169 5.5e3\\
}\kOt

\pgfplotstableread[row sep=\\]{t v\\
13.964 2.9e3\\ 13.985 4.4e3\\ 14.000 3.6e3\\ 14.040 3.45e3\\ 14.200 3.5e3\\ 14.400 3.35e3\\ 14.646 3.3e3\\ 14.652 3.4e3\\ 15.507 3.35e3\\ 0 nan\\
15.822 2.9e3\\ 15.850 2e4\\ 15.862 6.5e4\\ 15.875 3e4\\ 15.895 9e3\\ 15.930 4e3\\ 15.970 3.2e3\\ 17.565 3.15e3\\ 17.577 3.85e3\\ 18.501 3.78e3\\ 0 nan\\
18.645 3.85e3\\ 19.500 3.75e3\\ 20.695 3.6e3\\ 0 nan\\
21.021 3.1e3\\ 21.037 4.8e3\\ 21.060 3.85e3\\ 21.492 3.75e3\\ 0 nan\\
21.636 3.6e3\\ 21.645 4.2e3\\ 21.660 3.65e3\\ 23.160 3.7e3\\ 0 nan\\
23.486 3.7e3\\ 23.518 4.5e3\\ 23.566 3.75e3\\ 23.725 3.85e3\\ 24.443 3.9e3\\ 25.240 3.9e3\\ 25.480 4.0e3\\ 25.500 4.25e3\\ 25.530 4.0e3\\ 25.600 3.95e3\\ 25.739 3.97e3\\ 25.958 3.85e3\\ 26.038 3.75e3\\ 26.098 3.5e3\\ 26.138 3.0e3\\ 26.169 2.8e3\\
}\kRt

% ---------- black smoothed curves, lower panel ----------
\pgfplotstableread[row sep=\\]{t v\\
13.964 1.5e4\\ 13.970 2e4\\ 13.988 7e4\\ 14.036 9.8e4\\ 14.060 8.9e4\\ 14.200 8.8e4\\ 14.300 8.8e4\\ 14.355 9.6e4\\ 14.400 8.6e4\\ 14.500 7.8e4\\ 14.600 7.2e4\\ 14.674 6.85e4\\ 14.694 8.4e4\\ 14.800 8.4e4\\ 15.100 8.6e4\\ 15.300 8.9e4\\ 15.451 9.7e4\\ 15.507 9.2e4\\ 0 nan\\
15.822 1.5e4\\ 15.840 9e4\\ 15.870 1.5e5\\ 15.902 1.85e5\\ 15.920 1.6e5\\ 15.958 9.0e4\\ 16.030 8.1e4\\ 16.189 8.3e4\\ 16.508 8.1e4\\ 16.840 8.1e4\\ 16.867 8.8e4\\ 16.900 8.1e4\\ 17.026 8.0e4\\ 17.106 8.5e4\\ 17.245 8.8e4\\ 17.350 8.0e4\\ 17.425 7.7e4\\ 17.604 7.7e4\\ 17.624 9.0e4\\ 17.784 9.0e4\\ 18.063 8.9e4\\ 18.160 1.05e5\\ 18.282 1.38e5\\ 18.360 1.2e5\\ 18.422 1.0e5\\ 18.501 9.5e4\\ 0 nan\\
18.645 8.5e4\\ 19.040 8.5e4\\ 19.060 1.1e5\\ 19.140 1.3e5\\ 19.200 1.15e5\\ 19.359 8.5e4\\ 19.500 8.2e4\\ 19.660 8.0e4\\ 19.820 7.9e4\\ 19.950 8.6e4\\ 20.077 9.7e4\\ 20.200 8.4e4\\ 20.256 8.0e4\\ 20.476 8.8e4\\ 20.600 8.0e4\\ 20.695 8.1e4\\ 0 nan\\
21.021 7.5e4\\ 21.073 9.8e4\\ 21.113 9.2e4\\ 21.492 9.2e4\\ 0 nan\\
21.636 9.5e4\\ 21.771 9.5e4\\ 21.891 1.0e5\\ 22.051 9.5e4\\ 22.290 8.7e4\\ 22.449 9.0e4\\ 22.628 1.03e5\\ 22.729 9.3e4\\ 22.927 9.8e4\\ 23.147 1.04e5\\ 0 nan\\
23.486 1.0e5\\ 23.546 1.1e5\\ 23.638 1.05e5\\ 23.765 1.0e5\\ 24.044 1.0e5\\ 24.363 9.6e4\\ 24.640 9.8e4\\ 24.840 9.9e4\\ 25.200 1.0e5\\ 25.340 1.08e5\\ 25.480 1.15e5\\ 25.600 1.16e5\\ 25.647 1.45e5\\ 25.719 1.25e5\\ 25.799 1.25e5\\ 25.846 1.42e5\\ 25.918 1.2e5\\ 26.018 1.12e5\\ 26.058 1.2e5\\ 26.110 1.0e5\\ 26.169 8.7e4\\
}\kBb

\pgfplotstableread[row sep=\\]{t v\\
13.964 5e3\\ 13.975 9e3\\ 13.990 1.25e4\\ 14.036 1.3e4\\ 14.096 1.08e4\\ 14.200 1.15e4\\ 14.255 1.2e4\\ 14.400 1.1e4\\ 14.550 1.0e4\\ 14.674 9.6e3\\ 14.694 1.15e4\\ 15.000 1.16e4\\ 15.350 1.2e4\\ 15.420 1.22e4\\ 15.507 1.17e4\\ 0 nan\\
15.822 1.2e4\\ 15.870 1.3e4\\ 15.890 2.6e4\\ 15.902 3.0e4\\ 15.918 2.2e4\\ 15.958 1.2e4\\ 15.990 1.1e4\\ 16.189 1.05e4\\ 16.508 1.02e4\\ 16.867 1.0e4\\ 17.245 9.7e3\\ 17.425 9.6e3\\ 17.604 9.9e3\\ 17.624 1.2e4\\ 17.784 1.28e4\\ 18.063 1.2e4\\ 18.200 1.22e4\\ 18.282 1.37e4\\ 18.350 1.22e4\\ 18.501 1.2e4\\ 0 nan\\
18.645 1.2e4\\ 19.000 1.2e4\\ 19.200 1.25e4\\ 19.479 1.27e4\\ 19.490 1.6e4\\ 19.559 1.6e4\\ 19.570 1.22e4\\ 19.650 1.2e4\\ 20.550 1.18e4\\ 20.615 1.25e4\\ 20.695 1.18e4\\ 0 nan\\
21.021 1.1e4\\ 21.073 1.35e4\\ 21.113 1.25e4\\ 21.492 1.25e4\\ 0 nan\\
21.636 1.25e4\\ 21.683 1.18e4\\ 21.771 1.22e4\\ 21.931 1.35e4\\ 22.003 1.5e4\\ 22.060 1.3e4\\ 22.290 1.25e4\\ 22.449 1.27e4\\ 22.800 1.27e4\\ 22.950 1.32e4\\ 23.147 1.2e4\\ 0 nan\\
23.486 1.1e4\\ 23.546 1.35e4\\ 23.638 1.27e4\\ 24.044 1.25e4\\ 24.243 1.32e4\\ 24.443 1.35e4\\ 24.840 1.38e4\\ 24.921 1.4e4\\ 24.961 1.5e4\\ 25.000 1.42e4\\ 25.240 1.45e4\\ 25.511 1.6e4\\ 25.639 1.52e4\\ 25.739 1.45e4\\ 25.878 1.3e4\\ 26.038 1.22e4\\ 26.098 1.12e4\\ 26.140 9e3\\ 26.169 7.2e3\\
}\kOb

\pgfplotstableread[row sep=\\]{t v\\
13.964 2.9e3\\ 13.994 3.5e3\\ 14.016 4.0e3\\ 14.060 3.5e3\\ 14.300 3.5e3\\ 14.674 3.3e3\\ 14.694 3.4e3\\ 15.507 3.35e3\\ 0 nan\\
15.822 2.9e3\\ 15.862 6e3\\ 15.880 9.3e3\\ 15.910 9.5e3\\ 15.918 9e3\\ 15.940 4.5e3\\ 15.970 3.3e3\\ 16.100 3.2e3\\ 17.604 3.2e3\\ 17.624 3.8e3\\ 18.501 3.8e3\\ 0 nan\\
18.645 3.85e3\\ 20.695 3.7e3\\ 0 nan\\
21.021 3.6e3\\ 21.073 4.1e3\\ 21.113 3.75e3\\ 21.492 3.7e3\\ 0 nan\\
21.636 3.8e3\\ 21.683 3.65e3\\ 21.750 3.75e3\\ 23.147 3.7e3\\ 0 nan\\
23.486 3.7e3\\ 23.546 4.1e3\\ 23.605 3.75e3\\ 24.044 3.8e3\\ 24.640 3.9e3\\ 25.040 3.85e3\\ 25.480 4.05e3\\ 25.600 3.9e3\\ 25.840 3.9e3\\ 26.038 3.75e3\\ 26.118 3.3e3\\ 26.169 2.8e3\\
}\kRb

\pgfplotsset{
  bandb/.style={tabblue, line width=8pt, line join=round},
  bando/.style={taborange, line width=4.2pt, line join=round},
  bandr/.style={tabred, line width=2.4pt, line join=round},
  detl/.style={line width=1.3pt},
  hair/.style={line width=1.0pt},
  kline/.style={black, line width=1.5pt, line join=round},
  spanfill/.style={fill=tabgreen, fill opacity=0.2, draw=tabgreen, draw opacity=0.25},
}

\begin{document}
\begin{tikzpicture}
\path[use as bounding box] (0,0) rectangle (822.96pt,594.72pt);
\node[font=\fontsize{12}{14}\selectfont] at (411.5pt,581.7pt) {EOVSA flare monitor for 2026-07-22};

\begin{axis}[at={(32pt,523.2pt)}, anchor=north west,
  scale only axis, width=781.2pt, height=226.6pt,
  ymode=log, ymin=1000, ymax=5e5, xmin=13.487, xmax=26.49,
  xtick={14,16,18,20,22,24,26},
  xticklabels={07-22 14,07-22 16,07-22 18,07-22 20,07-22 22,07-23 00,07-23 02},
  ytick={1000,10000,100000},
  yticklabels={{10\textsuperscript{3}},{10\textsuperscript{4}},{10\textsuperscript{5}}},
  minor ytick={2000,3000,4000,5000,6000,7000,8000,9000,20000,30000,40000,50000,60000,70000,80000,90000,200000,300000,400000},
  tick align=outside, tick pos=left,
  major tick length=3.5pt, minor tick length=2pt,
  every major tick/.style={black, line width=0.8pt},
  every minor tick/.style={black, line width=0.6pt},
  axis line style={line width=0.8pt},
  tick label style={font=\fontsize{10}{12}\selectfont},
  unbounded coords=jump]
\addplot[spanfill] coordinates {(18.812,800) (18.964,800) (18.964,6e5) (18.812,6e5) (18.812,800)};
\addplot[spanfill] coordinates {(18.940,800) (19.000,800) (19.000,6e5) (18.940,6e5) (18.940,800)};
\addplot[bandb] table[x=t,y=v]{\bandB};
\addplot[tabblue, hair] table[x=t,y=v]{\hairB};
\addplot[tabblue, detl] table[x=t,y=v]{\detB};
\addplot[bando] table[x=t,y=v]{\bandO};
\addplot[taborange, hair] table[x=t,y=v]{\hairO};
\addplot[taborange, detl] table[x=t,y=v]{\detO};
\addplot[bandr] table[x=t,y=v]{\bandR};
\addplot[tabred, hair] table[x=t,y=v]{\hairR};
\addplot[tabred, detl] table[x=t,y=v]{\detR};
\addplot[kline] table[x=t,y=v]{\kBt};
\addplot[kline] table[x=t,y=v]{\kOt};
\addplot[kline] table[x=t,y=v]{\kRt};
\end{axis}

\begin{axis}[at={(32pt,251.0pt)}, anchor=north west,
  scale only axis, width=781.2pt, height=226.6pt,
  ymode=log, ymin=1000, ymax=5e5, xmin=13.487, xmax=26.49,
  xtick={14,16,18,20,22,24,26},
  xticklabels={07-22 14,07-22 16,07-22 18,07-22 20,07-22 22,07-23 00,07-23 02},
  ytick={1000,10000,100000},
  yticklabels={{10\textsuperscript{3}},{10\textsuperscript{4}},{10\textsuperscript{5}}},
  minor ytick={2000,3000,4000,5000,6000,7000,8000,9000,20000,30000,40000,50000,60000,70000,80000,90000,200000,300000,400000},
  tick align=outside, tick pos=left,
  major tick length=3.5pt, minor tick length=2pt,
  every major tick/.style={black, line width=0.8pt},
  every minor tick/.style={black, line width=0.6pt},
  axis line style={line width=0.8pt},
  tick label style={font=\fontsize{10}{12}\selectfont},
  unbounded coords=jump]
\addplot[spanfill] coordinates {(18.812,800) (19.032,800) (19.032,6e5) (18.812,6e5) (18.812,800)};
\addplot[bandb] table[x=t,y=v]{\bandB};
\addplot[tabblue, hair] table[x=t,y=v]{\hairB};
\addplot[tabblue, detl] table[x=t,y=v]{\detB};
\addplot[bando] table[x=t,y=v]{\bandO};
\addplot[taborange, hair] table[x=t,y=v]{\hairO};
\addplot[taborange, detl] table[x=t,y=v]{\detO};
\addplot[bandr] table[x=t,y=v]{\bandR};
\addplot[tabred, hair] table[x=t,y=v]{\hairR};
\addplot[tabred, detl] table[x=t,y=v]{\detR};
\addplot[kline] table[x=t,y=v]{\kBb};
\addplot[kline] table[x=t,y=v]{\kOb};
\addplot[kline] table[x=t,y=v]{\kRb};
\end{axis}
\end{tikzpicture}
\end{document}
